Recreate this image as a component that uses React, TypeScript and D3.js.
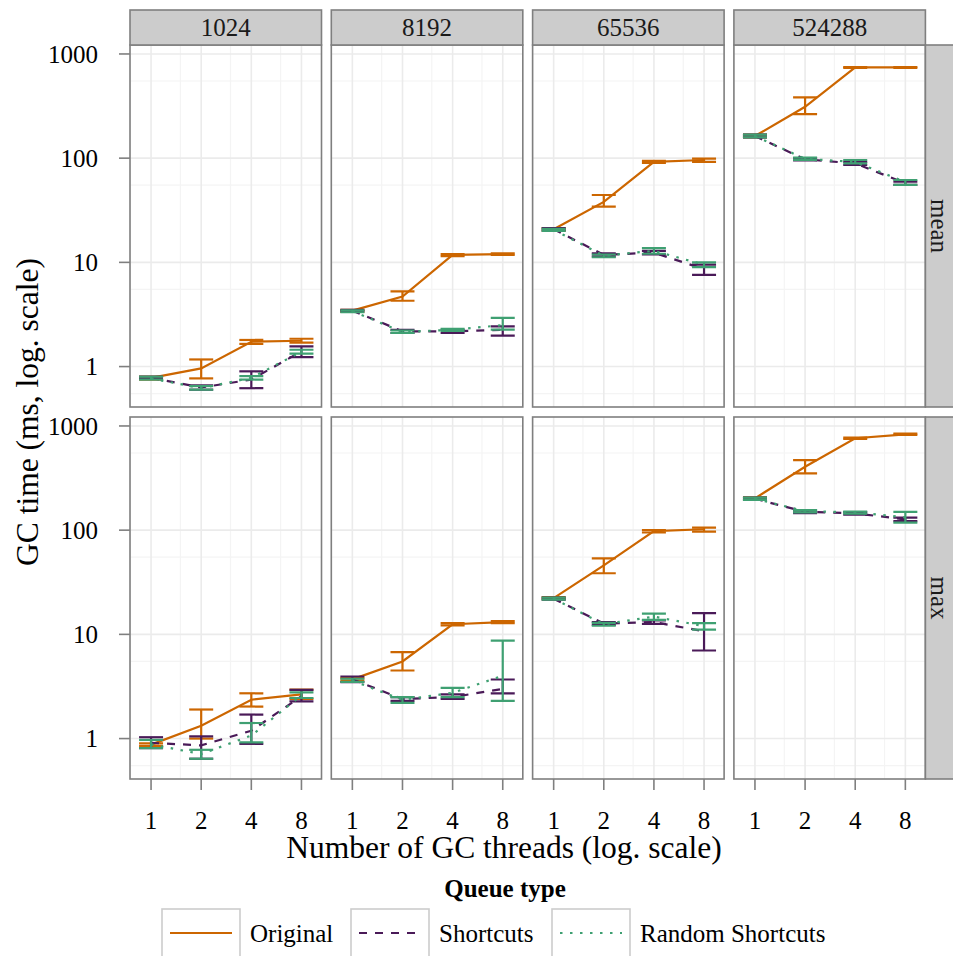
import { useEffect, useRef } from "react";
import * as d3 from "d3";

const threads = [1, 2, 4, 8];
const sizes = ["1024", "8192", "65536", "524288"];
const stats = ["mean", "max"];
const seriesNames = ["Original", "Shortcuts", "Random Shortcuts"];
const yTicks = [1, 10, 100, 1000];
const yMinor = [0.55, 5.5, 55, 550];
const xMinor = [0.75, 1.5, 3, 6];

// [value, low, high] per thread count, one row per heap size
type Pt = [number, number, number];

const meanOriginal: Pt[][] = [
  [[0.78, 0.75, 0.8], [0.96, 0.77, 1.17], [1.73, 1.65, 1.8], [1.77, 1.7, 1.85]],
  [[3.44, 3.35, 3.5], [4.7, 4.28, 5.26], [11.8, 11.5, 12.0], [12.0, 11.8, 12.2]],
  [[20.8, 20.2, 21.3], [38, 34.2, 44.3], [92, 90, 94], [96, 92, 99]],
  [[163, 158, 168], [311, 265, 383], [743, 735, 750], [743, 735, 750]],
];
const meanShortcuts: Pt[][] = [
  [[0.78, 0.76, 0.8], [0.63, 0.6, 0.66], [0.75, 0.62, 0.9], [1.4, 1.23, 1.56]],
  [[3.44, 3.38, 3.5], [2.18, 2.1, 2.25], [2.18, 2.1, 2.25], [2.25, 1.98, 2.43]],
  [[20.8, 20.3, 21.3], [11.8, 11.4, 12.2], [12.4, 11.9, 12.9], [8.6, 7.6, 9.5]],
  [[163, 158, 168], [97.5, 95, 100], [89, 86, 92], [57.5, 55.5, 59.5]],
];
const meanRandom: Pt[][] = [
  [[0.77, 0.75, 0.8], [0.62, 0.6, 0.65], [0.78, 0.75, 0.81], [1.39, 1.33, 1.45]],
  [[3.4, 3.32, 3.47], [2.15, 2.1, 2.22], [2.25, 2.2, 2.3], [2.5, 2.26, 2.93]],
  [[20.5, 20, 21], [11.6, 11.2, 11.9], [12.9, 12.1, 13.7], [9.5, 9.0, 10.0]],
  [[163, 158, 168], [98.5, 96, 101], [92, 89, 96], [59, 55.3, 61.7]],
];
const maxOriginal: Pt[][] = [
  [[0.875, 0.85, 0.9], [1.33, 1.0, 1.9], [2.36, 2.03, 2.72], [2.65, 2.4, 2.95]],
  [[3.7, 3.6, 3.8], [5.5, 4.5, 6.75], [12.5, 12.2, 12.8], [13.1, 12.8, 13.4]],
  [[22.3, 21.8, 22.8], [46, 38.6, 53.5], [98, 95, 100], [102, 97, 106]],
  [[202, 197, 207], [406, 350, 470], [762, 750, 775], [832, 820, 845]],
];
const maxShortcuts: Pt[][] = [
  [[0.91, 0.81, 1.03], [0.86, 0.64, 1.05], [1.19, 0.89, 1.7], [2.55, 2.27, 2.93]],
  [[3.7, 3.48, 3.94], [2.4, 2.3, 2.5], [2.5, 2.4, 2.65], [3.0, 2.72, 3.69]],
  [[22, 21.5, 22.5], [12.7, 12.3, 13.1], [13.1, 12.6, 13.6], [10.7, 7.0, 16.0]],
  [[200, 195, 205], [150, 146, 154], [145, 141, 149], [127, 122, 132]],
];
const maxRandom: Pt[][] = [
  [[0.88, 0.81, 0.97], [0.71, 0.64, 0.78], [1.07, 0.92, 1.41], [2.6, 2.45, 2.78]],
  [[3.6, 3.5, 3.75], [2.35, 2.2, 2.5], [2.75, 2.5, 3.07], [4.0, 2.3, 8.7]],
  [[22, 21.5, 22.5], [12.5, 12.1, 12.9], [14.8, 13.8, 15.8], [12.0, 11.1, 12.8]],
  [[200, 195, 205], [152, 148, 156], [148, 144, 151], [133, 118, 150]],
];

const data: Pt[][][][] = [
  [meanOriginal, meanShortcuts, meanRandom],
  [maxOriginal, maxShortcuts, maxRandom],
];

const colors = ["#CC6600", "#4A1A58", "#3FA072"];
const dashes = ["none", "8,8", "2.5,7.5"];

const FONT = "'Liberation Serif', 'DejaVu Serif', serif";

const App = () => {
  const svgRef = useRef<SVGSVGElement | null>(null);

  useEffect(() => {
    const svg = d3.select(svgRef.current);
    svg.selectAll("*").remove();

    const width = 953;
    const height = 956;
    const panelLeft = 130;
    const panelW = 191.5;
    const gapX = 9.8;
    const panelTop = [45, 417];
    const panelH = 362;
    const stripH = 35;
    const border = "#7F7F7F";

    svg.append("rect").attr("width", width).attr("height", height).attr("fill", "#fff");

    const xScale = d3
      .scaleLog()
      .base(2)
      .domain([Math.pow(2, -0.42), Math.pow(2, 3.4)])
      .range([0, panelW]);
    const yScale = d3
      .scaleLog()
      .domain([Math.pow(10, -0.388), Math.pow(10, 3.086)])
      .range([panelH, 0]);

    stats.forEach((stat, r) => {
      sizes.forEach((size, c) => {
        const x0 = panelLeft + c * (panelW + gapX);
        const y0 = panelTop[r];
        const g = svg.append("g").attr("transform", `translate(${x0},${y0})`);

        g.append("rect")
          .attr("width", panelW)
          .attr("height", panelH)
          .attr("fill", "#fff");

        // minor grid
        g.selectAll(".ymin")
          .data(yMinor)
          .join("line")
          .attr("x1", 0)
          .attr("x2", panelW)
          .attr("y1", (d) => yScale(d))
          .attr("y2", (d) => yScale(d))
          .attr("stroke", "#F4F4F4")
          .attr("stroke-width", 1.2);
        g.selectAll(".xmin")
          .data(xMinor)
          .join("line")
          .attr("x1", (d) => xScale(d))
          .attr("x2", (d) => xScale(d))
          .attr("y1", 0)
          .attr("y2", panelH)
          .attr("stroke", "#F4F4F4")
          .attr("stroke-width", 1.2);
        // major grid
        g.selectAll(".ymaj")
          .data(yTicks)
          .join("line")
          .attr("x1", 0)
          .attr("x2", panelW)
          .attr("y1", (d) => yScale(d))
          .attr("y2", (d) => yScale(d))
          .attr("stroke", "#EBEBEB")
          .attr("stroke-width", 1.6);
        g.selectAll(".xmaj")
          .data(threads)
          .join("line")
          .attr("x1", (d) => xScale(d))
          .attr("x2", (d) => xScale(d))
          .attr("y1", 0)
          .attr("y2", panelH)
          .attr("stroke", "#EBEBEB")
          .attr("stroke-width", 1.6);

        const clipId = `clip-${r}-${c}`;
        g.append("clipPath")
          .attr("id", clipId)
          .append("rect")
          .attr("width", panelW)
          .attr("height", panelH);
        const plot = g.append("g").attr("clip-path", `url(#${clipId})`);

        seriesNames.forEach((_, s) => {
          const pts = data[r][s][c];
          const line = d3
            .line<Pt>()
            .x((_d, i) => xScale(threads[i]))
            .y((d) => yScale(d[0]));
          plot
            .append("path")
            .datum(pts)
            .attr("fill", "none")
            .attr("stroke", colors[s])
            .attr("stroke-width", 2.2)
            .attr("stroke-dasharray", dashes[s])
            .attr("d", line);

          const eb = plot.append("g").attr("stroke", colors[s]).attr("stroke-width", 2.2);
          pts.forEach((d, i) => {
            const cx = xScale(threads[i]);
            const yl = yScale(d[1]);
            const yh = yScale(d[2]);
            eb.append("line").attr("x1", cx).attr("x2", cx).attr("y1", yl).attr("y2", yh);
            eb.append("line").attr("x1", cx - 12).attr("x2", cx + 12).attr("y1", yl).attr("y2", yl);
            eb.append("line").attr("x1", cx - 12).attr("x2", cx + 12).attr("y1", yh).attr("y2", yh);
          });
        });

        g.append("rect")
          .attr("width", panelW)
          .attr("height", panelH)
          .attr("fill", "none")
          .attr("stroke", border)
          .attr("stroke-width", 1.6);

        // top strip
        if (r === 0) {
          svg.append("rect")
            .attr("x", x0)
            .attr("y", y0 - stripH)
            .attr("width", panelW)
            .attr("height", stripH)
            .attr("fill", "#CCCCCC")
            .attr("stroke", border)
            .attr("stroke-width", 1.6);
          svg.append("text")
            .attr("x", x0 + panelW / 2)
            .attr("y", y0 - stripH / 2)
            .attr("dy", "0.35em")
            .attr("text-anchor", "middle")
            .attr("font-family", FONT)
            .attr("font-size", 25)
            .attr("fill", "#1A1A1A")
            .text(size);
        }

        // right strip
        if (c === sizes.length - 1) {
          const sx = x0 + panelW;
          svg.append("rect")
            .attr("x", sx)
            .attr("y", y0)
            .attr("width", stripH)
            .attr("height", panelH)
            .attr("fill", "#CCCCCC")
            .attr("stroke", border)
            .attr("stroke-width", 1.6);
          svg.append("text")
            .attr("transform", `translate(${sx + 14},${y0 + panelH / 2}) rotate(90)`)
            .attr("dy", "0.35em")
            .attr("text-anchor", "middle")
            .attr("font-family", FONT)
            .attr("font-size", 25)
            .attr("fill", "#1A1A1A")
            .text(stat);
        }

        // y axis on first column
        if (c === 0) {
          const ya = g.append("g");
          yTicks.forEach((t) => {
            ya.append("line")
              .attr("x1", -11)
              .attr("x2", 0)
              .attr("y1", yScale(t))
              .attr("y2", yScale(t))
              .attr("stroke", border)
              .attr("stroke-width", 1.6);
            ya.append("text")
              .attr("x", -32)
              .attr("y", yScale(t))
              .attr("dy", "0.35em")
              .attr("text-anchor", "end")
              .attr("font-family", FONT)
              .attr("font-size", 25)
              .attr("fill", "#000")
              .text(String(t));
          });
        }

        // x axis on bottom row
        if (r === stats.length - 1) {
          const xa = g.append("g");
          threads.forEach((t) => {
            xa.append("line")
              .attr("x1", xScale(t))
              .attr("x2", xScale(t))
              .attr("y1", panelH)
              .attr("y2", panelH + 11)
              .attr("stroke", border)
              .attr("stroke-width", 1.6);
            xa.append("text")
              .attr("x", xScale(t))
              .attr("y", panelH + 41)
              .attr("dy", "0.35em")
              .attr("text-anchor", "middle")
              .attr("font-family", FONT)
              .attr("font-size", 25)
              .attr("fill", "#000")
              .text(String(t));
          });
        }
      });
    });

    // axis titles
    svg.append("text")
      .attr("x", 504)
      .attr("y", 858)
      .attr("text-anchor", "middle")
      .attr("font-family", FONT)
      .attr("font-size", 31.5)
      .attr("fill", "#000")
      .text("Number of GC threads (log. scale)");

    svg.append("text")
      .attr("transform", `translate(38,412) rotate(-90)`)
      .attr("text-anchor", "middle")
      .attr("font-family", FONT)
      .attr("font-size", 31.5)
      .attr("fill", "#000")
      .text("GC time (ms, log. scale)");

    // legend
    svg.append("text")
      .attr("x", 505)
      .attr("y", 897)
      .attr("text-anchor", "middle")
      .attr("font-family", FONT)
      .attr("font-weight", "bold")
      .attr("font-size", 25)
      .attr("fill", "#000")
      .text("Queue type");

    const keyX = [162, 351, 552];
    const keyW = 78;
    const keyTop = 909;
    const keyH = 49;
    seriesNames.forEach((name, s) => {
      const kg = svg.append("g").attr("transform", `translate(${keyX[s]},${keyTop})`);
      kg.append("rect")
        .attr("width", keyW)
        .attr("height", keyH)
        .attr("fill", "#fff")
        .attr("stroke", "#CCCCCC")
        .attr("stroke-width", 1.6);
      kg.append("line")
        .attr("x1", 8)
        .attr("x2", keyW - 8)
        .attr("y1", 24)
        .attr("y2", 24)
        .attr("stroke", colors[s])
        .attr("stroke-width", 2.2)
        .attr("stroke-dasharray", dashes[s]);
      kg.append("text")
        .attr("x", keyW + 10)
        .attr("y", 24)
        .attr("dy", "0.35em")
        .attr("font-family", FONT)
        .attr("font-size", 25)
        .attr("fill", "#000")
        .text(name);
    });
  }, []);

  return (
    <svg
      ref={svgRef}
      width={953}
      height={956}
      style={{ position: "absolute", left: 0, top: 0, display: "block" }}
    />
  );
};

export default App;
